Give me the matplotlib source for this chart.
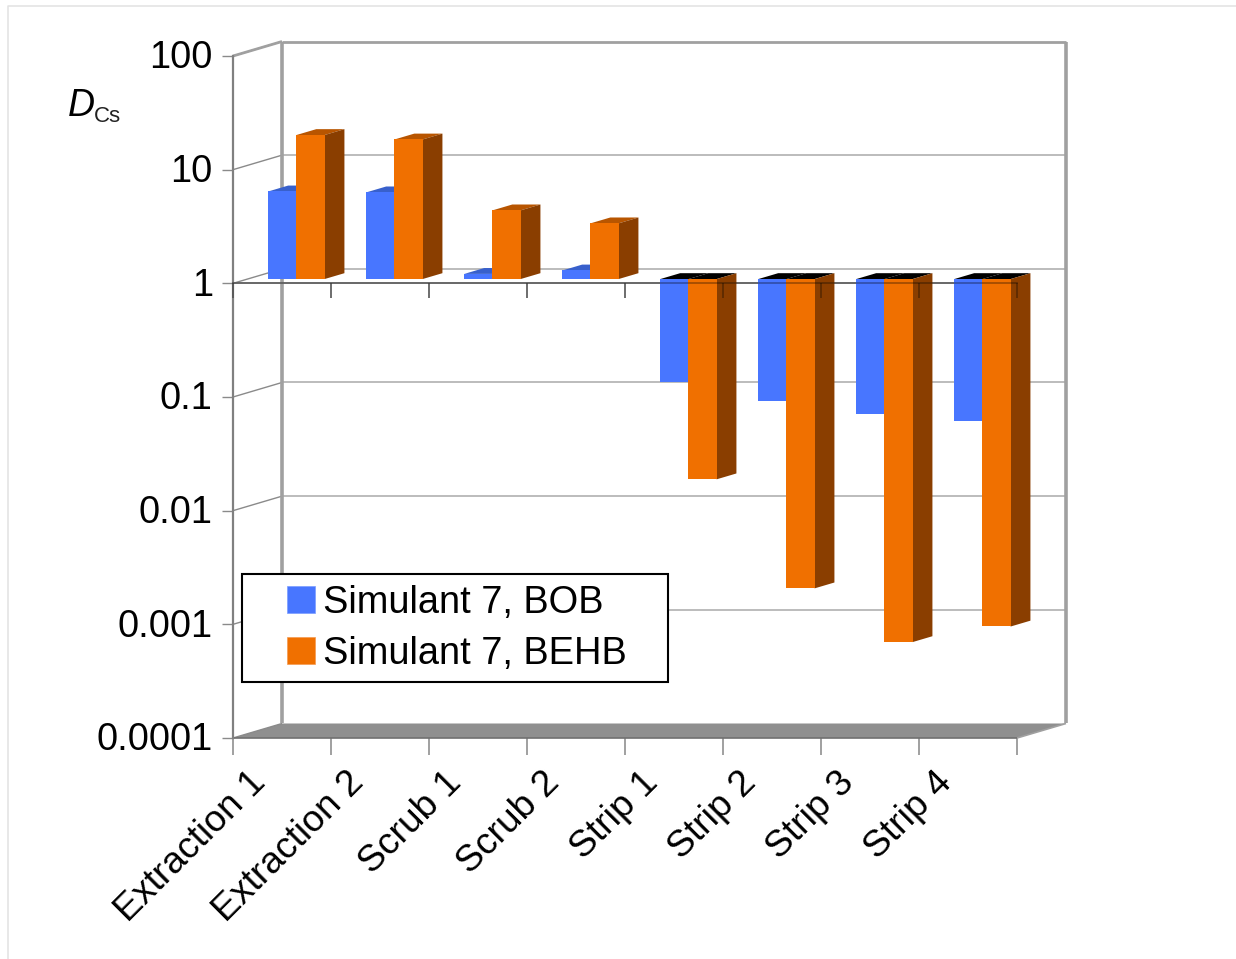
import matplotlib
matplotlib.use("Agg")
import matplotlib.pyplot as plt
from matplotlib.patches import Polygon, Rectangle, Patch
from matplotlib.transforms import Affine2D, IdentityTransform
from matplotlib.lines import Line2D
import matplotlib.markers as mk

categories = ["Extraction 1", "Extraction 2", "Scrub 1", "Scrub 2",
              "Strip 1", "Strip 2", "Strip 3", "Strip 4"]
bob = [5.9, 5.79, 1.11, 1.19, 0.123, 0.085, 0.0645, 0.0566]
behb = [18.5, 16.9, 4.02, 3.09, 0.0173, 0.0019, 0.00064, 0.000877]
series_names = ["Simulant 7, BOB", "Simulant 7, BEHB"]
y_ticks = [1e-4, 1e-3, 1e-2, 1e-1, 1, 10, 100]
y_tick_labels = ["0.0001", "0.001", "0.01", "0.1", "1", "10", "100"]

W, H = 1236, 959
plt.rcParams['font.family'] = ['Liberation Sans', 'DejaVu Sans']
fig = plt.figure(figsize=(W / 100, H / 100), dpi=100)
ax = fig.add_axes([233 / W, 1 - 738 / H, 784 / W, 682 / H])
ax.set_yscale("log")
ax.set_xlim(0, 8)
ax.set_ylim(1e-4, 100)
ax.patch.set_visible(False)
for s in ("top", "right", "bottom"):
    ax.spines[s].set_visible(False)
ax.spines["left"].set_color("#808080")
ax.spines["left"].set_linewidth(1.6)

DX, DY = 49.0, 14.5


def pt(x, v, depth):
    p = ax.transData.transform((x, v))
    return (p[0] + DX * depth, p[1] + DY * depth)


def poly(points, color, z, **kw):
    ax.add_patch(Polygon(points, closed=True, facecolor=color, edgecolor="none",
                         transform=IdentityTransform(), clip_on=False, zorder=z, **kw))


def seg(a, b, color, lw, z):
    ax.add_line(Line2D([a[0], b[0]], [a[1], b[1]], color=color, lw=lw, zorder=z,
                       transform=IdentityTransform(), clip_on=False,
                       solid_capstyle="butt"))


# floor
poly([pt(0, 1e-4, 0), pt(0, 1e-4, 1), pt(8, 1e-4, 1), pt(8, 1e-4, 0)], "#8f8f8f", 1)

# walls and grid
for v in y_ticks:
    seg(pt(0, v, 0), pt(0, v, 1), "#8a8a8a", 1.0, 1.5)
    if v not in (100, 1e-4):
        seg(pt(0, v, 1), pt(8, v, 1), "#b0b0b0", 1.2, 1.5)
seg(pt(0, 100, 0), pt(0, 100, 1), "#a0a0a0", 2.0, 1.6)
seg(pt(0, 100, 1), pt(8, 100, 1), "#a0a0a0", 2.0, 1.6)
seg(pt(0, 100, 1), pt(0, 1e-4, 1), "#a0a0a0", 2.6, 1.6)
seg(pt(8, 100, 1), pt(8, 1e-4, 1), "#a0a0a0", 2.6, 1.6)
seg(pt(8, 1e-4, 0), pt(8, 1e-4, 1), "#a0a0a0", 1.2, 1.6)

# axis at y=1 and floor edge
ax.plot(range(9), [1] * 9, color="#8c8c8c", lw=1.3, marker=mk.TICKDOWN, ms=11,
        mew=1.2, zorder=1.8, clip_on=False)
seg(pt(0, 1e-4, 0), pt(8, 1e-4, 0), "#707070", 1.2, 2)

# bars
BW = 0.287
FRONT, BACK = 0.295, 0.7
front_tf = ax.transData + Affine2D().translate(DX * FRONT, DY * 0.3)
for i in range(len(categories)):
    xc = i + 0.5
    for k, (vals, col, topc) in enumerate(((bob, "#4876ff", "#3860cc"),
                                           (behb, "#f07000", "#b85500"))):
        v = vals[i]
        x0 = xc + (k - 1) * BW
        x1 = x0 + BW
        z = 3 + k
        top = max(v, 1)
        tcol = topc if v > 1 else "#000000"
        poly([pt(x0, top, FRONT), pt(x0, top, BACK), pt(x1, top, BACK), pt(x1, top, FRONT)], tcol, z)
        if k == 1:
            poly([pt(x1, 1, FRONT), pt(x1, 1, BACK), pt(x1, v, BACK), pt(x1, v, FRONT)], "#8a3e00", z)
        ax.bar(x0, v - 1, width=BW, bottom=1, align="edge", color=col, zorder=z + 0.5,
               transform=front_tf, clip_on=False)

# axis line and ticks showing faintly over the bars
ax.plot(range(9), [1] * 9, ls="-", lw=1.2, marker=mk.TICKDOWN, ms=11, mew=1.2, color="#000000",
        alpha=0.35, zorder=6, clip_on=False)

# axes ticks and labels
ax.set_xlim(0, 8)
ax.set_ylim(1e-4, 100)
ax.set_yticks(y_ticks, y_tick_labels, fontsize=27.3)
ax.minorticks_off()
ax.tick_params(axis="y", length=8, width=1.0, color="#8a8a8a", pad=6.5)
for lab in ax.get_yticklabels():
    lab.set_transform(lab.get_transform() + Affine2D().translate(0, 1.5))
ax.set_xticks([i + 0.5 for i in range(8)])
ax.set_xticklabels(categories, fontsize=26.8, rotation=45, ha="right",
                   rotation_mode="anchor")
ax.tick_params(axis="x", which="major", length=0, pad=19.6)
for lab in ax.get_xticklabels():
    lab.set_transform(lab.get_transform() + Affine2D().translate(-34, 0))
ax.set_xticks(range(9), minor=True)
ax.tick_params(axis="x", which="minor", length=12, width=1.2, color="#909090")

# y-axis title
fig.text(68 / W, 1 - 116 / H, "D", fontsize=27, style="italic", ha="left", va="baseline")
fig.text(94 / W, 1 - 122 / H, "Cs", fontsize=16, ha="left", va="baseline", color="#222222")

# legend frame and legend
fig.add_artist(Rectangle((241.5 / W, 1 - 681.5 / H), 426 / W, 107.5 / H, transform=fig.transFigure,
                         facecolor="white", edgecolor="black", lw=1.5, zorder=10))
handles = [Patch(facecolor="#4876ff", edgecolor="#7a9cff", lw=0.5),
           Patch(facecolor="#f07000", edgecolor="#f59a50", lw=0.5)]
leg = fig.legend(handles, series_names, frameon=False, fontsize=27.4,
                 loc="center left", bbox_to_anchor=(287 / W, 1 - 628.5 / H),
                 borderpad=0, borderaxespad=0, handlelength=0.74, handleheight=0.71,
                 handletextpad=0.215, labelspacing=0.40)
leg.set_zorder(11)

# page edge
fig.add_artist(Line2D([8 / W, 8 / W, 1], [0, 1 - 5.5 / H, 1 - 5.5 / H], color="#e2e2e2", lw=1.1,
                      transform=fig.transFigure))

fig.savefig("out.png", dpi=100, facecolor="white")
